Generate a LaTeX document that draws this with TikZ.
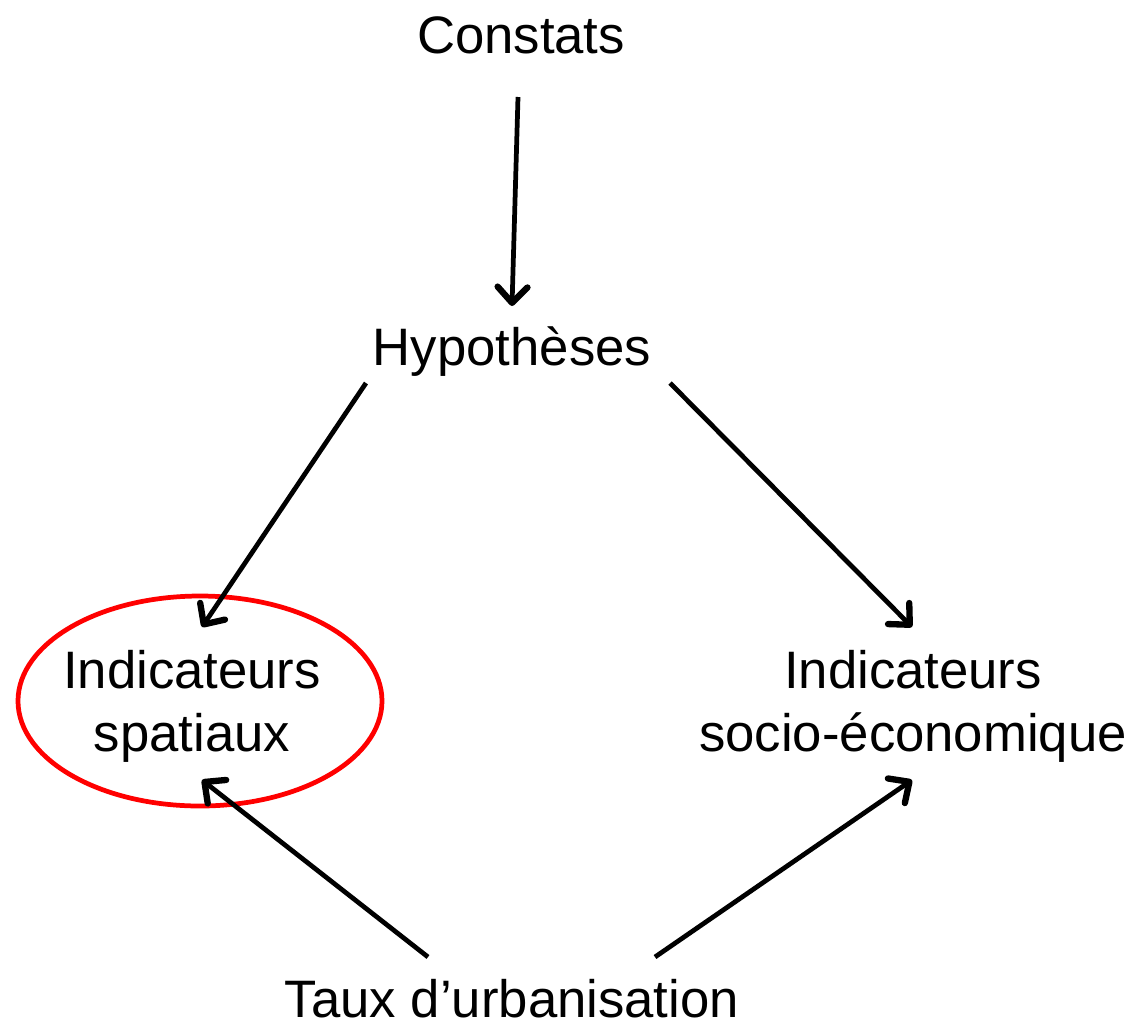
\documentclass[tikz,border=0pt]{standalone}
\usepackage{fontspec}
\setmainfont{Liberation Sans}
\usetikzlibrary{arrows.meta}
\begin{document}
\begin{tikzpicture}[x=0.02cm,y=-0.02cm,
  lbl/.style={font=\fontsize{30}{36}\selectfont, align=center, inner sep=0pt},
  conn/.style={line width=2.7pt, -{Straight Barb[length=9pt,width=17pt,line width=3.6pt,round]}}]
\useasboundingbox (0,0) rectangle (1136,1025);
\node[lbl] (c) at (521,35) {Constats};
\node[lbl] (h) at (512,352) {Hypothèses};
\node[lbl] (s) at (192,706) {Indicateurs\\spatiaux};
\node[lbl] (e) at (913,706) {Indicateurs\\socio-économique};
\node[lbl] (t) at (512,999) {Taux d’urbanisation};
\draw[red, line width=2.7pt] (200,701) ellipse [x radius=182, y radius=105];
\coordinate (c1) at (518,97);
\coordinate (h0) at (512,306);
\coordinate (h1) at (366,383);
\coordinate (h2) at (670,383);
\coordinate (s0) at (202,627);
\coordinate (e0) at (912,627);
\coordinate (s1) at (202,780);
\coordinate (e1) at (912,780);
\coordinate (t1) at (428,957);
\coordinate (t2) at (655,957);
\draw[conn] (c1) -- (h0);
\draw[conn] (h1) -- (s0);
\draw[conn] (h2) -- (e0);
\draw[conn] (t1) -- (s1);
\draw[conn] (t2) -- (e1);
\end{tikzpicture}
\end{document}
